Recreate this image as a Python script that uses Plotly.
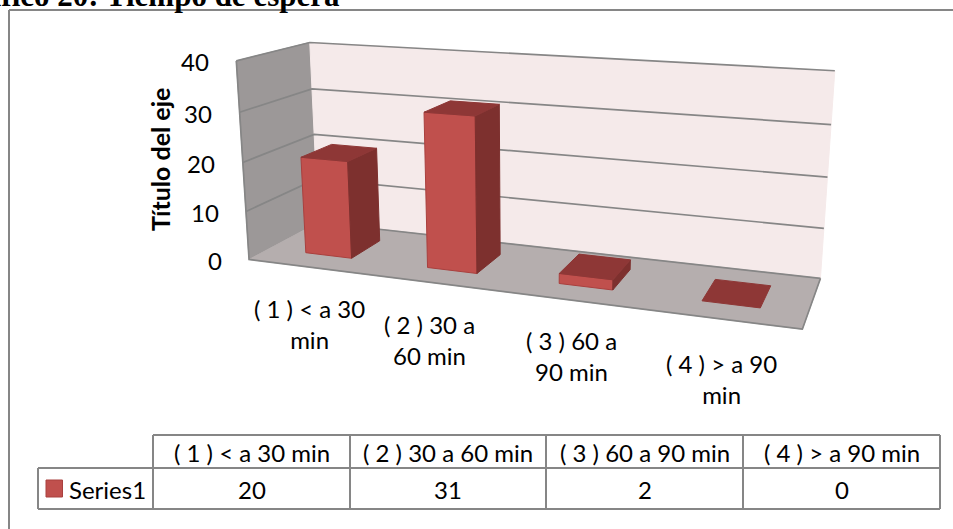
import numpy as np
import plotly.graph_objects as go

categories_wrapped = ["( 1 ) &lt; a 30<br>min", "( 2 ) 30 a<br>60 min", "( 3 ) 60 a<br>90 min", "( 4 ) &gt; a 90<br>min"]
categories = ["( 1 ) &lt; a 30 min", "( 2 ) 30 a 60 min", "( 3 ) 60 a 90 min", "( 4 ) &gt; a 90 min"]
series_name = "Series1"
values = [20, 31, 2, 0]
y_ticks = [0, 10, 20, 30, 40]
y_title = "Título del eje"
title = "Gráfico 20: Tiempo de espera"

FONT = "Lato"
C_FRONT, C_SIDE, C_TOP = "#C0504D", "#7D302E", "#8E3736"
C_FLOOR, C_BACK, C_WALL = "#B5AEAE", "#F5EAEA", "#9C9898"
C_LINE = "#868686"

# Camera calibration: model (category, value, depth) -> page pixel
calib = [
    ((0, 0, 0), (249.5, 259.5)), ((0, 40, 0), (235, 60.5)),
    ((4, 0, 0), (802, 330)), ((4, 0, 1), (820, 277.5)),
    ((4, 40, 1), (834, 71)), ((0, 40, 1), (310, 43)),
    ((0, 0, 1), (317, 223)), ((0, 20, 0), (244, 162)),
    ((0, 20, 1), (315, 134)), ((4, 20, 1), (829, 177)),
]
A = []
for (X, Y, Z), (u, v) in calib:
    A.append([X, Y, Z, 1, 0, 0, 0, 0, -u*X, -u*Y, -u*Z, -u])
    A.append([0, 0, 0, 0, X, Y, Z, 1, -v*X, -v*Y, -v*Z, -v])
P = np.linalg.svd(np.array(A, float))[2][-1].reshape(3, 4)

def proj(pts):
    h = np.c_[np.array(pts, float), np.ones(len(pts))] @ P.T
    return (h[:, 0] / h[:, 2]).tolist(), (h[:, 1] / h[:, 2]).tolist()

fig = go.Figure()

def poly(pts, fill, line=None, lw=1):
    x, y = proj(list(pts) + [pts[0]])
    fig.add_trace(go.Scatter(x=x, y=y, mode="lines", fill="toself", fillcolor=fill,
                             line=dict(color=line or fill, width=lw), hoverinfo="skip", showlegend=False))

def polyline(pts, color=C_LINE, lw=1.7):
    x, y = proj(pts)
    fig.add_trace(go.Scatter(x=x, y=y, mode="lines", line=dict(color=color, width=lw),
                             hoverinfo="skip", showlegend=False))

top = y_ticks[-1]
n = len(values)
poly([(0, 0, 0), (0, top, 0), (0, top, 1), (0, 0, 1)], C_WALL)
poly([(0, 0, 1), (0, top, 1), (n, top, 1), (n, 0, 1)], C_BACK)
poly([(0, 0, 0), (n, 0, 0), (n, 0, 1), (0, 0, 1)], C_FLOOR)
for t in y_ticks[1:]:
    polyline([(0, t, 0), (0, t, 1), (n, t, 1)])
polyline([(0, top, 0), (0, 0, 0), (n, 0, 0), (n, 0, 1)])
polyline([(0, 0, 1), (n, 0, 1)])

X0, X1, Z0, Z1 = 0.31, 0.695, 0.28, 0.73
for i, v in enumerate(values):
    a, b = i + X0, i + X1
    if v > 0:
        poly([(a, 0, Z0), (b, 0, Z0), (b, v, Z0), (a, v, Z0)], C_FRONT, "#A9403E")
        poly([(b, 0, Z0), (b, 0, Z1), (b, v, Z1), (b, v, Z0)], C_SIDE)
    poly([(a, v, Z0), (b, v, Z0), (b, v, Z1), (a, v, Z1)], C_TOP)

ann = []
def text(x, y, s, size=24, anchor="center", angle=0, bold=False, family=FONT, color="#000000"):
    ann.append(dict(x=x, y=y, text=f"<b>{s}</b>" if bold else s, showarrow=False, xanchor=anchor,
                    yanchor="middle", textangle=angle, xref="x", yref="y", align="center",
                    font=dict(family=family, size=size, color=color)))

# value-axis tick labels
tick_px = proj([(0, t, 0) for t in y_ticks])
for t, px, py in zip(y_ticks, *tick_px):
    text(px - 25.5, py + 1, str(t), anchor="right")
text(160, 160, y_title, size=25, angle=-90, bold=True)

label_x = [309, 429, 571, 721]
label_y = [324, 340, 356, 379]
for c, lx, ly in zip(categories_wrapped, label_x, label_y):
    text(lx, ly, c)

ann.append(dict(x=342, y=0, yshift=5, text=f"<b>{title}</b>", showarrow=False, xanchor="right", yanchor="middle",
                xref="x", yref="y", font=dict(family="Liberation Serif", size=31, color="#000000")))

# data table
col_x = [38, 153, 350, 546, 743, 940]
row_y = [435, 468, 509]
shapes = []
def seg(x0, y0, x1, y1, w=2):
    shapes.append(dict(type="line", x0=x0, y0=y0, x1=x1, y1=y1, xref="x", yref="y",
                       line=dict(color=C_LINE, width=w)))
seg(col_x[0], row_y[1], col_x[-1], row_y[1])
seg(col_x[0], row_y[2], col_x[-1], row_y[2])
seg(col_x[1], row_y[0], col_x[-1], row_y[0])
seg(col_x[0], row_y[1], col_x[0], row_y[2])
for cx in col_x[1:]:
    seg(cx, row_y[0], cx, row_y[2])
shapes.append(dict(type="rect", x0=46, y0=480, x1=62.5, y1=497, xref="x", yref="y",
                   fillcolor=C_FRONT, line=dict(color="#A9403E", width=1)))
text(67, 489, series_name, anchor="left")
for i, (c, v) in enumerate(zip(categories, values)):
    mid = (col_x[i + 1] + col_x[i + 2]) / 2
    text(mid, 452, c)
    text(mid, 489, str(v))

# outer chart frame
seg(9, 10, 953, 10)
seg(9, 10, 9, 529)

fig.update_layout(
    width=953, height=529, margin=dict(l=0, r=0, t=0, b=0),
    paper_bgcolor="white", plot_bgcolor="white",
    xaxis=dict(range=[0, 953], visible=False, fixedrange=True),
    yaxis=dict(range=[529, 0], visible=False, fixedrange=True),
    annotations=ann, shapes=shapes, showlegend=False,
)
fig.write_html("out.html", config={"displayModeBar": False},
               post_script="document.body.style.margin='0';document.body.style.overflow='hidden';")
